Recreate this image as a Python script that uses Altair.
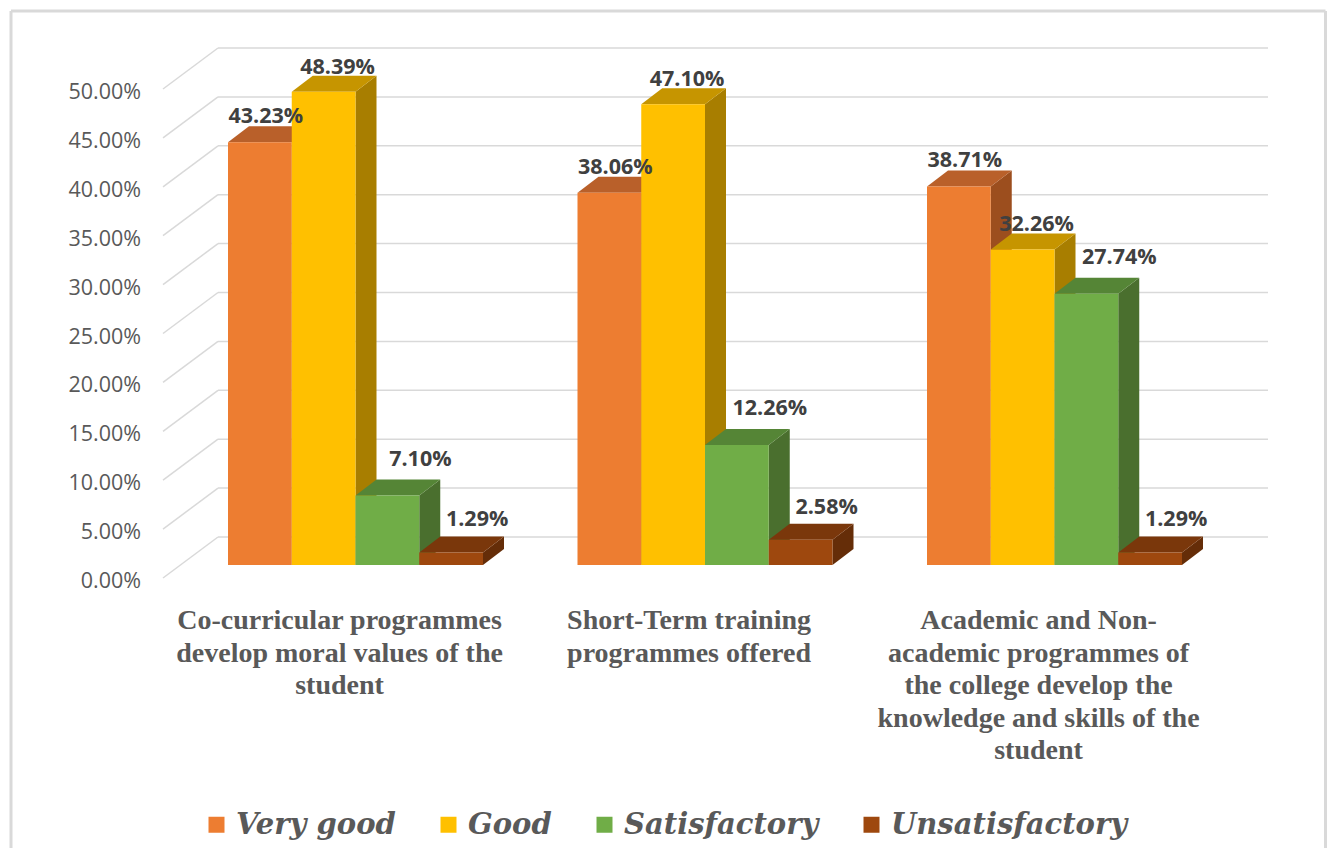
import altair as alt
import pandas as pd

# ---------------- data ----------------
CATEGORIES = [
    "Co-curricular programmes\ndevelop moral values of the\nstudent",
    "Short-Term training\nprogrammes offered",
    "Academic and Non-\nacademic programmes of\nthe college develop the\nknowledge and skills of the\nstudent",
]
SERIES = ["Very good", "Good", "Satisfactory", "Unsatisfactory"]
VERY_GOOD = [43.23, 38.06, 38.71]
GOOD = [48.39, 47.10, 32.26]
SATISFACTORY = [7.10, 12.26, 27.74]
UNSATISFACTORY = [1.29, 2.58, 1.29]
Y_TICKS = [0, 5, 10, 15, 20, 25, 30, 35, 40, 45, 50]
Y_TICK_LABELS = ["0.00%", "5.00%", "10.00%", "15.00%", "20.00%", "25.00%",
                 "30.00%", "35.00%", "40.00%", "45.00%", "50.00%"]

# ---------------- style ----------------
FRONT = ["#ED7D31", "#FFC000", "#70AD47", "#9E480E"]
TOP = ["#B9602A", "#C69500", "#558536", "#7A370B"]
SIDE = ["#9C4E1E", "#A87E00", "#4A6F2E", "#652D08"]
GRID = "#D9D9D9"

W, H = 1319, 840
PX_U = 63.75      # pixels per bar width unit
PX_V = 9.78       # pixels per percent
X0 = 220          # plot px of first bar's left edge
Y0 = 557          # plot px of front-face zero
X_DOM = [-X0 / PX_U, (W - X0) / PX_U]
Y_DOM = [(Y0 - H) / PX_V, Y0 / PX_V]

GROUP_STEP = 349.5 / PX_U
DX = 21 / PX_U
DY = 16 / PX_V
BACK_DV = 28 / PX_V
BACK_L = -10 / PX_U
BACK_R = 1040 / PX_U
SIDE_L = -65 / PX_U
SIDE_DV = -13 / PX_V
TICK_X = -87 / PX_U
TICK_DV = -17 / PX_V
LABEL_DX = [6, 14, 33, 26]
LABEL_DY = [25, 24, 36, 32]

values = [VERY_GOOD, GOOD, SATISFACTORY, UNSATISFACTORY]

front_rows, side_rows, top_rows, lab_rows = [], [], [], []
for g in range(len(CATEGORIES)):
    for s, name in enumerate(SERIES):
        v = values[s][g]
        xl = g * GROUP_STEP + s
        xr = xl + 1
        bid = f"{g}-{s}"
        front_rows.append(dict(series=name, xl=xl, xr=xr, v=v, base=0.0))
        side_rows.append(dict(id=bid, series=name, x=xr, top=v, bot=0.0))
        side_rows.append(dict(id=bid, series=name, x=xr + DX, top=v + DY, bot=DY))
        top_rows.append(dict(id=bid, series=name, y=v, xa=xl, xb=xr))
        top_rows.append(dict(id=bid, series=name, y=v + DY, xa=xl + DX, xb=xr + DX))
        lab_rows.append(dict(series=name, x=(xl + xr) / 2 + LABEL_DX[s] / PX_U,
                             y=v + LABEL_DY[s] / PX_V, text=f"{v:.2f}%"))

grid_rows = []
for t, lab in zip(Y_TICKS, Y_TICK_LABELS):
    grid_rows.append(dict(x=BACK_L, x2=BACK_R, y=t + BACK_DV, y2=t + BACK_DV))
    grid_rows.append(dict(x=SIDE_L, x2=BACK_L, y=t + SIDE_DV, y2=t + BACK_DV))
tick_df = pd.DataFrame(dict(x=[TICK_X] * len(Y_TICKS),
                            y=[t + TICK_DV for t in Y_TICKS], text=Y_TICK_LABELS))
cat_df = pd.DataFrame(dict(x=[g * GROUP_STEP + 1.75 for g in range(3)],
                           y=[-42 / PX_V] * 3, text=CATEGORIES))

xs = alt.Scale(domain=X_DOM, nice=False, zero=False)
ys = alt.Scale(domain=Y_DOM, nice=False, zero=False)

grid = alt.Chart(pd.DataFrame(grid_rows)).mark_rule(color=GRID, strokeWidth=1.5).encode(
    x=alt.X("x:Q", scale=xs, axis=None), x2="x2:Q",
    y=alt.Y("y:Q", scale=ys, axis=None), y2="y2:Q")

ticks = alt.Chart(tick_df).mark_text(align="right", baseline="middle", font="Open Sans",
                                     fontSize=21.5, color="#595959").encode(
    x=alt.X("x:Q", scale=xs, axis=None), y=alt.Y("y:Q", scale=ys, axis=None), text="text:N")

sides = alt.Chart(pd.DataFrame(side_rows)).mark_area(opacity=1).encode(
    x=alt.X("x:Q", scale=xs, axis=None),
    y=alt.Y("top:Q", scale=ys, axis=None), y2="bot:Q",
    detail="id:N",
    color=alt.Color("series:N", scale=alt.Scale(domain=SERIES, range=SIDE), legend=None))

tops = alt.Chart(pd.DataFrame(top_rows)).mark_area(orient="horizontal", opacity=1).encode(
    y=alt.Y("y:Q", scale=ys, axis=None),
    x=alt.X("xa:Q", scale=xs, axis=None), x2="xb:Q",
    detail="id:N",
    color=alt.Color("series:N", scale=alt.Scale(domain=SERIES, range=TOP), legend=None))

fronts = alt.Chart(pd.DataFrame(front_rows)).mark_rect().encode(
    x=alt.X("xl:Q", scale=xs, axis=None), x2="xr:Q",
    y=alt.Y("v:Q", scale=ys, axis=None), y2="base:Q",
    color=alt.Color("series:N", scale=alt.Scale(domain=SERIES, range=FRONT),
                    legend=alt.Legend(title=None, orient="none", legendX=194, legendY=802,
                                      direction="horizontal", symbolType="square",
                                      symbolSize=256, symbolStrokeWidth=0,
                                      labelFont="DejaVu Serif", labelFontSize=29,
                                      labelFontStyle="italic", labelFontWeight="bold",
                                      labelColor="#595959", labelOffset=5,
                                      columnPadding=38, padding=0, labelLimit=400)))

labels = alt.Chart(pd.DataFrame(lab_rows)).mark_text(
    align="center", baseline="middle", font="Open Sans", fontSize=21.5,
    fontWeight="bold", color="#404040").encode(
    x=alt.X("x:Q", scale=xs, axis=None), y=alt.Y("y:Q", scale=ys, axis=None), text="text:N")

cats = alt.Chart(cat_df).mark_text(
    align="center", baseline="top", lineBreak="\n", lineHeight=32.5,
    font="Liberation Serif", fontSize=28, fontWeight="bold", color="#595959").encode(
    x=alt.X("x:Q", scale=xs, axis=None), y=alt.Y("y:Q", scale=ys, axis=None), text="text:N")

one = pd.DataFrame(dict(a=[0]))
border = alt.layer(
    alt.Chart(one).mark_rule(color=GRID, strokeWidth=3).encode(
        x=alt.value(3), x2=alt.value(1317.5), y=alt.value(3)),
    alt.Chart(one).mark_rule(color=GRID, strokeWidth=3).encode(
        x=alt.value(3), y=alt.value(3), y2=alt.value(H)),
    alt.Chart(one).mark_rule(color=GRID, strokeWidth=3).encode(
        x=alt.value(1317.5), y=alt.value(3), y2=alt.value(H)),
)

chart = alt.layer(border, grid, ticks, sides, tops, fronts, labels, cats).resolve_scale(
    color="independent"
).properties(
    width=W, height=H, padding=0,
    autosize=alt.AutoSizeParams(type="none"),
).configure_view(stroke=None)

chart.save("out.html", embed_options={"renderer": "svg", "actions": False})
